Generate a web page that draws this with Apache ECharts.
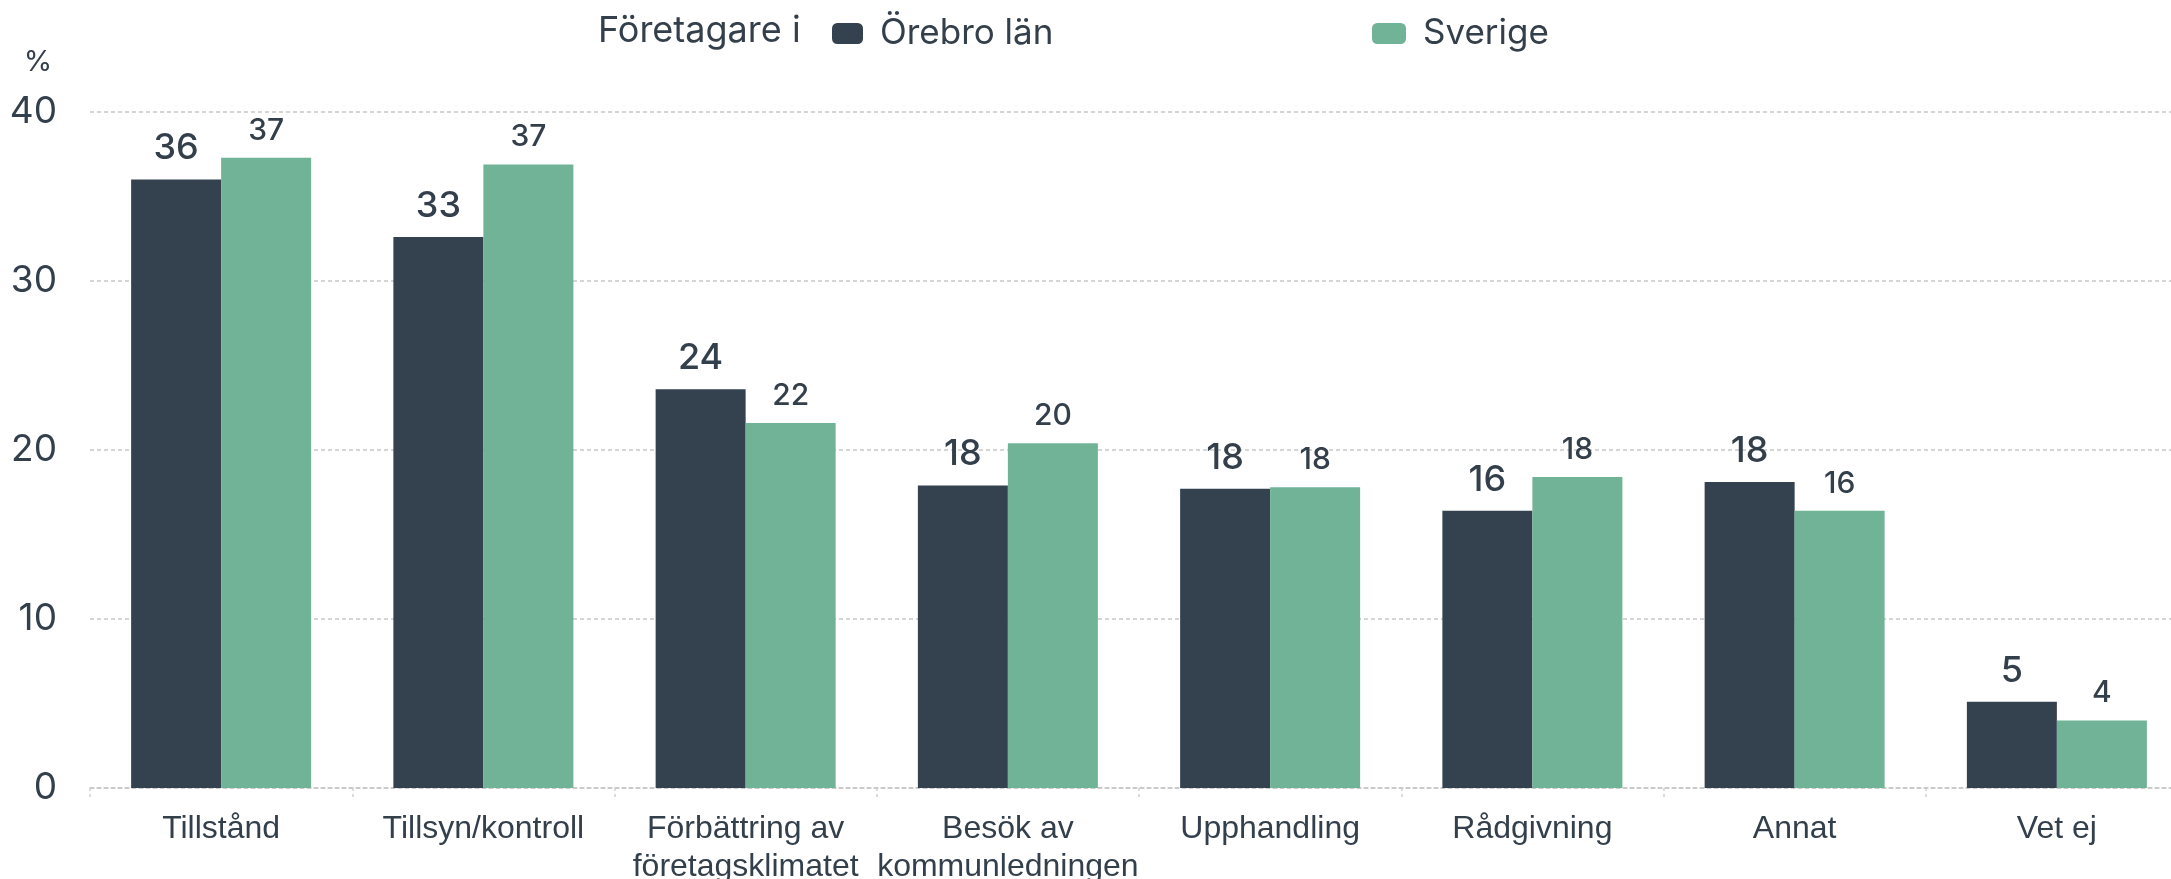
<!DOCTYPE html>
<html>
<head>
<meta charset="utf-8">
<script src="https://cdn.jsdelivr.net/npm/echarts@6/dist/echarts.min.js"></script>
<style>
  html, body { margin: 0; padding: 0; background: #fff; }
  #chart { width: 2171px; height: 879px; }
</style>
</head>
<body>
<div id="chart"></div>
<script>
// kategorier och värden (procent)
const categories = ['Tillstånd', 'Tillsyn/kontroll', 'Förbättring av\nföretagsklimatet', 'Besök av\nkommunledningen', 'Upphandling', 'Rådgivning', 'Annat', 'Vet ej']
const orebroValues = [36.0, 32.6, 23.6, 17.9, 17.7, 16.4, 18.1, 5.1]
const sverigeValues = [37.3, 36.9, 21.6, 20.4, 17.8, 18.4, 16.4, 4.0]
const yTicks = [0, 10, 20, 30, 40]

const textColor = '#333f4b'
const geo = 'Inter, "Noto Sans", sans-serif'

let myChart = echarts.init(document.getElementById('chart'))
let option = {
  animation: false,
  title: {
    text: 'Företagare i',
    left: 593,
    top: 8,
    textStyle: { fontFamily: geo, fontSize: 36, fontWeight: 'normal', color: textColor }
  },
  legend: [
    {
      data: ['Örebro län'],
      left: 827,
      top: 11,
      icon: 'roundRect',
      itemWidth: 31,
      itemHeight: 21,
      textStyle: { fontFamily: geo, fontSize: 35, color: textColor, padding: [0, 0, 0, 12] }
    },
    {
      data: ['Sverige'],
      left: 1367,
      top: 11,
      icon: 'roundRect',
      itemWidth: 34,
      itemHeight: 21,
      textStyle: { fontFamily: geo, fontSize: 35, color: textColor, padding: [0, 0, 0, 12] }
    }
  ],
  grid: {
    left: 90,
    top: 112,
    width: 2098,
    height: 676,
    containLabel: false,
    outerBoundsMode: 'none'
  },
  xAxis: {
    type: 'category',
    data: categories,
    axisLine: { show: true, lineStyle: { color: '#c8c8c8', width: 1.5, type: [4, 3] } },
    axisTick: { show: true, length: 10, lineStyle: { color: '#d0d0d0', width: 1.5, type: [3, 3] } },
    axisLabel: {
      fontFamily: '"Liberation Sans", Arial, sans-serif',
      fontSize: 32,
      lineHeight: 38,
      color: textColor,
      margin: 22,
      interval: 0
    }
  },
  yAxis: {
    type: 'value',
    min: yTicks[0],
    max: yTicks[yTicks.length - 1],
    interval: 10,
    name: '%',
    nameLocation: 'end',
    nameGap: 35,
    nameTextStyle: { fontFamily: geo, fontSize: 29, color: textColor, align: 'center', padding: [0, 0, 0, -104] },
    axisLine: { show: false },
    axisTick: { show: false },
    axisLabel: { fontFamily: geo, fontSize: 37, color: textColor, margin: 33 },
    splitLine: { show: true, lineStyle: { color: '#c8c8c8', width: 1.5, type: [4, 3] } }
  },
  series: [
    {
      name: 'Örebro län',
      type: 'bar',
      data: orebroValues,
      barWidth: 90,
      barGap: '0%',
      itemStyle: { color: '#34424f' },
      label: {
        show: true,
        position: 'top',
        distance: 13,
        fontFamily: geo,
        fontSize: 36,
        fontWeight: 500,
        color: textColor,
        formatter: (p) => Math.round(p.value)
      }
    },
    {
      name: 'Sverige',
      type: 'bar',
      data: sverigeValues,
      barWidth: 90,
      barGap: '0%',
      itemStyle: { color: '#71b397' },
      label: {
        show: true,
        position: 'top',
        distance: 12,
        fontFamily: geo,
        fontSize: 30,
        fontWeight: 500,
        color: textColor,
        formatter: (p) => Math.round(p.value)
      }
    }
  ]
}
myChart.setOption(option)
window.addEventListener('resize', function () {
  myChart.resize()
})
</script>
</body>
</html>
